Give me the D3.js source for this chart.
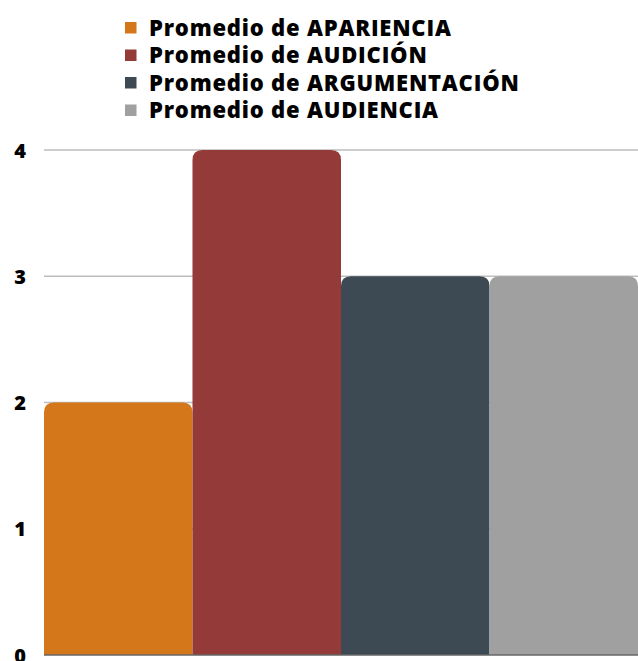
<!DOCTYPE html>
<html><head><meta charset="utf-8">
<script src="https://cdn.jsdelivr.net/npm/d3@7"></script>
<style>body{margin:0;background:#fff}svg{display:block}text{font-family:"Open Sans",sans-serif;font-weight:800}</style>
</head><body><svg id="c" width="638" height="661"></svg>
<script>
const series = ["Promedio de APARIENCIA","Promedio de AUDICIÓN","Promedio de ARGUMENTACIÓN","Promedio de AUDIENCIA"];
const values = [2,4,3,3];
const colors = ["#D4761A","#943A38","#3E4A53","#A0A0A0"];
const yTicks = [0,1,2,3,4];

(function(){
const svg = d3.select("#c");
const mL = 44, mR = 638, mT = 150, mB = 655;
const x = d3.scaleBand().domain(series).range([mL, mR]).padding(0);
const y = d3.scaleLinear().domain([0,4]).range([mB, mT]);

svg.append("g").selectAll("line").data(yTicks.filter(t=>t>0)).join("line")
  .attr("x1", mL).attr("x2", mR).attr("y1", d=>y(d)).attr("y2", d=>y(d))
  .attr("stroke", "#bdbdbd").attr("stroke-width", 1.5);

const r = 10;
svg.append("g").selectAll("path").data(series).join("path")
  .attr("fill", (d,i)=>colors[i])
  .attr("d", (d,i)=>{
    const x0 = x(d), x1 = x(d)+x.bandwidth(), yt = y(values[i]), yb = y(0);
    return `M${x0},${yb}V${yt+r}Q${x0},${yt} ${x0+r},${yt}H${x1-r}Q${x1},${yt} ${x1},${yt+r}V${yb}Z`;
  });

svg.append("line").attr("x1", mL).attr("x2", mR).attr("y1", y(0)).attr("y2", y(0))
  .attr("stroke", "#666").attr("stroke-width", 1.5);

const yAxis = d3.axisLeft(y).tickValues(yTicks).tickFormat(d3.format("d")).tickSize(0).tickPadding(0);
const ga = svg.append("g").attr("transform", "translate(26,0)").call(yAxis);
ga.select(".domain").remove();
ga.selectAll("text").attr("font-size", 20).attr("fill", "#000").attr("font-family", "'Open Sans',sans-serif").attr("font-weight", 800).attr("text-anchor","end").attr("dy","0.35em");

const lg = svg.append("g");
const rows = lg.selectAll("g").data(series).join("g")
  .attr("transform", (d,i)=>`translate(125,${28+i*27.5})`);
rows.append("rect").attr("x",0).attr("y",-6).attr("width",11.5).attr("height",11.5).attr("fill",(d,i)=>colors[i]);
rows.append("text").attr("x",24).attr("dy","0.35em").attr("font-size",22).attr("letter-spacing",0.8).attr("fill","#000").text(d=>d);
})();
</script></body></html>
